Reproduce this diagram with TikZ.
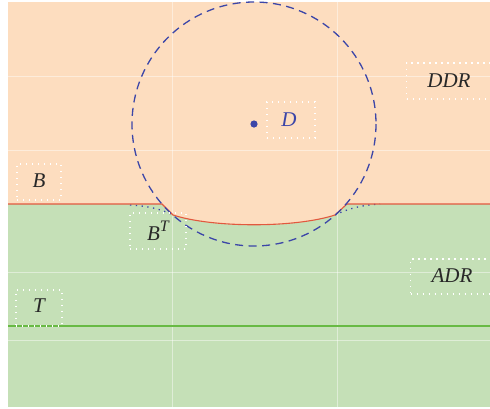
\documentclass[tikz,border=0pt]{standalone}
\usepackage{fontspec}
\setmainfont{Liberation Serif}
\usetikzlibrary{calc}
\definecolor{peach}{RGB}{253,221,191}
\definecolor{mint}{RGB}{197,224,183}
\definecolor{redline}{RGB}{226,88,62}
\definecolor{greenline}{RGB}{104,186,68}
\definecolor{bluec}{RGB}{60,70,168}
\definecolor{txt}{RGB}{40,40,40}
\tikzset{
  lbl/.style={font=\fontsize{21}{25}\selectfont\itshape, text=txt},
  lblbox/.style={draw=white, line width=1.3pt, dash pattern=on 1.3pt off 4.7pt, inner sep=0pt},
  gridl/.style={white, opacity=0.45, line width=0.6pt},
  bdot/.style={bluec, line width=1.3pt, dash pattern=on 1.3pt off 4.5pt},
}
\begin{document}
\begin{tikzpicture}[x=1pt,y=-1pt]
\useasboundingbox (0,0) rectangle (490,408);
% regions
\fill[peach] (8,2) rectangle (490,204);
\fill[mint] (8,204) rectangle (490,407);
\fill[peach] (162,204) -- (173,215) .. controls (213,228) and (295,228) .. (335,215) -- (347,204) -- cycle;
% grid
\foreach \gx in {172,337} \draw[gridl] (\gx,2) -- (\gx,407);
\foreach \gy in {76,150,272,340} \draw[gridl] (8,\gy) -- (490,\gy);
% coordinates of boundary
\coordinate (bl) at (8,204);
\coordinate (k1) at (162,204);
\coordinate (c1) at (173,215);
\coordinate (c2) at (335,215);
\coordinate (k2) at (347,204);
\coordinate (br) at (490,204);
\coordinate (d1) at (130,205);
\coordinate (d2) at (380,204);
% dotted blue
\draw[bdot] (d1) .. controls (150,206) and (163,210) .. (c1);
\draw[bdot] (c2) .. controls (345,210) and (360,205) .. (d2);
% red boundary
\draw[redline, line width=1.1pt] (bl) -- (k1) -- (c1) .. controls (213,228) and (295,228) .. (c2) -- (k2) -- (br);
% green line
\coordinate (gl) at (8,326);
\coordinate (gr) at (490,326);
\draw[greenline, line width=1.8pt] (gl) -- (gr);
% circle
\node[circle, inner sep=0pt, minimum size=2pt] (ctr) at (254,124) {};
\draw[bluec, dash pattern=on 8pt off 5.5pt, line width=1.3pt] (ctr.center) circle[radius=122];
\fill[bluec] (ctr.center) circle[radius=3.6];
% labels
\node[lblbox, minimum width=48, minimum height=36] (Dbox) at (291,120) {};
\node[lblbox, minimum width=90, minimum height=36, anchor=west] (DDRbox) at (406,81) {};
\node[lblbox, minimum width=86, minimum height=35, anchor=west] (ADRbox) at (410,276.5) {};
\node[lblbox, minimum width=44, minimum height=36] (Bbox) at (39,182) {};
\node[lblbox, minimum width=56, minimum height=36] (BTbox) at (158,231) {};
\node[lblbox, minimum width=46, minimum height=36] (Tbox) at (39,308) {};
\node[lbl, text=bluec] (D) at (289,120) {D};
\node[lbl] (DDR) at (449,81) {DDR};
\node[lbl] (ADR) at (452,276) {ADR};
\node[lbl] (B) at (39,181) {B};
\node[lbl] (BT) at (158,231) {B\raisebox{0.45em}{\fontsize{16}{18}\selectfont T}};
\node[lbl] (T) at (39,306) {T};
\end{tikzpicture}
\end{document}
